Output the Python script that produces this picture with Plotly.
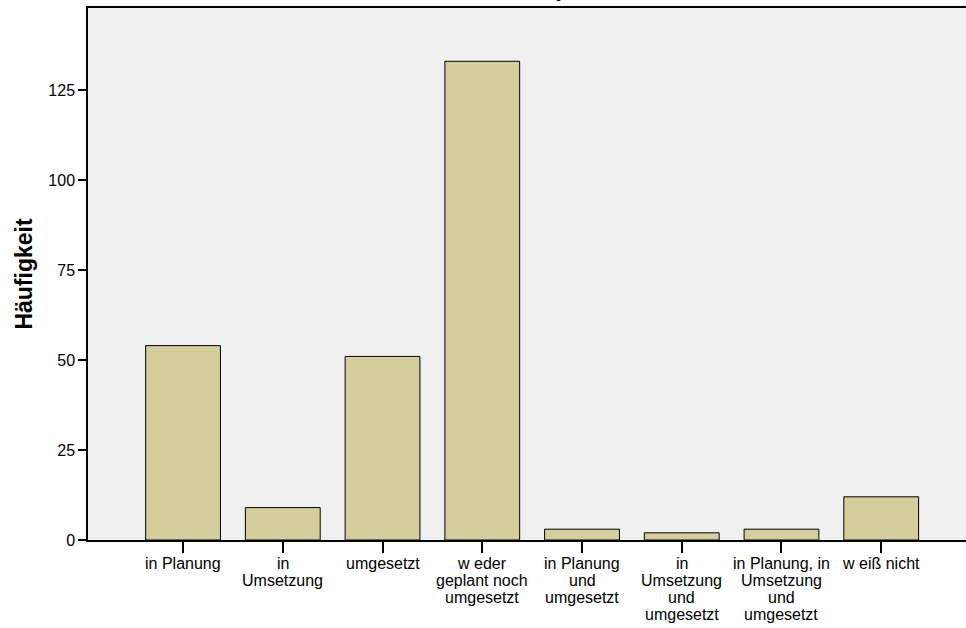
import plotly.graph_objects as go

categories = [
    "in Planung",
    "in<br>Umsetzung",
    "umgesetzt",
    "w eder<br>geplant noch<br>umgesetzt",
    "in Planung<br>und<br>umgesetzt",
    "in<br>Umsetzung<br>und<br>umgesetzt",
    "in Planung, in<br>Umsetzung<br>und<br>umgesetzt",
    "w eiß nicht",
]
counts = [54, 9, 51, 133, 3, 2, 3, 12]
y_ticks = [0, 25, 50, 75, 100, 125]

font_family = "Liberation Sans, Arial, sans-serif"

fig = go.Figure()
fig.add_trace(go.Bar(
    x=list(range(len(categories))),
    y=counts,
    width=0.75,
    marker=dict(color="#d3ce9b", line=dict(color="black", width=1)),
))

fig.update_layout(
    width=966, height=628,
    margin=dict(l=88, r=0, t=8, b=88),
    paper_bgcolor="white",
    plot_bgcolor="#f0f0f0",
    showlegend=False,
    font=dict(family=font_family, size=16, color="black"),
)
fig.update_xaxes(
    tickmode="array",
    tickvals=list(range(len(categories))),
    ticktext=[""] * len(categories),
    range=[-0.953, 7.85],
    showline=True, linecolor="black", linewidth=1.5, mirror=True,
    ticks="outside", ticklen=11, tickcolor="black", tickwidth=1.5,
    showgrid=False, zeroline=False, automargin=False,
)
fig.update_yaxes(
    tickmode="array",
    tickvals=y_ticks,
    range=[0, 147.8],
    showline=True, linecolor="black", linewidth=1.5, mirror=False,
    ticks="outside", ticklen=8, tickcolor="black", tickwidth=1.5,
    showgrid=False, zeroline=False, automargin=False,
    tickfont=dict(size=16),
    title=dict(text="<b>Häufigkeit</b>", font=dict(size=23), standoff=9),
)

# category labels with tight line spacing (one annotation per line)
for i, lab in enumerate(categories):
    for k, line in enumerate(lab.split("<br>")):
        fig.add_annotation(
            text=line, x=i, xref="x", y=0, yref="y",
            yanchor="middle", xanchor="center", showarrow=False,
            yshift=-(23 + 17 * k), font=dict(size=16),
        )

# chart title, cut off at the top edge (only the descender is visible)
fig.add_annotation(
    text="<b>y</b>", x=(561 - 88) / (966 - 88), xref="paper",
    y=1, yref="paper", yanchor="bottom", showarrow=False,
    yshift=5, font=dict(size=18),
)
fig.write_html(
    "out.html",
    config={"displayModeBar": False},
    post_script="document.body.style.margin='0';",
)
